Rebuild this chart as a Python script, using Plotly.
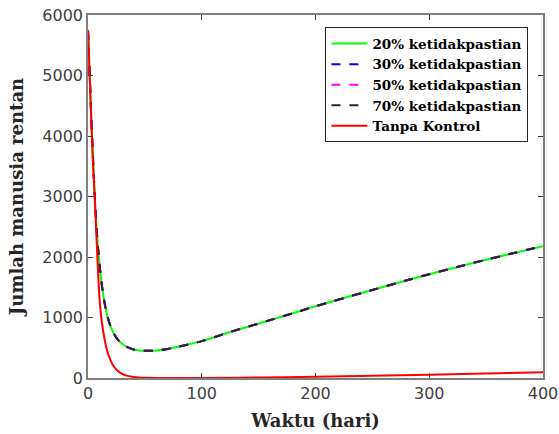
import plotly.graph_objects as go

t_ctrl = [0, 2, 4, 6, 8, 10, 12, 15, 18, 22, 26, 30, 35, 40, 45, 50, 55, 60, 70, 80, 100, 125, 150, 175, 200, 250, 300, 350, 400]
s20 = [5750, 4750, 3800, 3000, 2350, 1900, 1560, 1200, 960, 760, 640, 565, 505, 472, 456, 450, 450, 455, 480, 520, 610, 760, 900, 1040, 1185, 1455, 1715, 1955, 2180]
s30 = s20
s50 = s20
s70 = s20
t_none = [0, 2, 4, 6, 8, 10, 12, 15, 18, 22, 26, 30, 35, 40, 45, 50, 60, 80, 100, 150, 200, 250, 300, 350, 400]
s_none = [5750, 4700, 3700, 2950, 2100, 1350, 950, 600, 380, 210, 120, 70, 35, 18, 9, 5, 2, 1, 2, 8, 22, 38, 55, 75, 97]

labels = ["20% ketidakpastian", "30% ketidakpastian", "50% ketidakpastian", "70% ketidakpastian", "Tanpa Kontrol"]
x_ticks = [0, 100, 200, 300, 400]
y_ticks = [0, 1000, 2000, 3000, 4000, 5000, 6000]

fig = go.Figure()
fig.add_trace(go.Scatter(x=t_ctrl, y=s20, name="<b>" + labels[0] + "</b>", mode="lines", line=dict(color="#00ff00", width=2, shape="spline")))
fig.add_trace(go.Scatter(x=t_ctrl, y=s30, name="<b>" + labels[1] + "</b>", mode="lines", line=dict(color="#0000ff", width=2, dash="dash", shape="spline")))
fig.add_trace(go.Scatter(x=t_ctrl, y=s50, name="<b>" + labels[2] + "</b>", mode="lines", line=dict(color="#ff00ff", width=2, dash="dash", shape="spline")))
fig.add_trace(go.Scatter(x=t_ctrl, y=s70, name="<b>" + labels[3] + "</b>", mode="lines", line=dict(color="#262626", width=2, dash="dash", shape="spline")))
fig.add_trace(go.Scatter(x=t_none, y=s_none, name="<b>" + labels[4] + "</b>", mode="lines", line=dict(color="#ff0000", width=2, shape="spline")))

axis_common = dict(showline=True, linecolor="#808080", linewidth=1.5, mirror="ticks", ticks="inside",
                   ticklen=5, tickcolor="#404040", showgrid=False, zeroline=False, automargin=False,
                   tickfont=dict(family="DejaVu Sans", size=16, color="#404040"))
fig.update_xaxes(range=[0, 400], tickvals=x_ticks, **axis_common,
                 title=dict(text="<b>Waktu (hari)</b>", font=dict(family="DejaVu Serif", size=18, color="#262626"), standoff=12))
fig.update_yaxes(range=[0, 6000], tickvals=y_ticks, **axis_common,
                 title=dict(text="<b>Jumlah manusia rentan</b>", font=dict(family="DejaVu Serif", size=18, color="#262626"), standoff=14))

fig.update_layout(
    width=559, height=434,
    margin=dict(l=88, r=16, t=15, b=56),
    plot_bgcolor="white", paper_bgcolor="white",
    showlegend=True,
    legend=dict(x=0.968, y=0.966, xanchor="right", yanchor="top",
                bgcolor="white", bordercolor="#262626", borderwidth=1,
                font=dict(family="DejaVu Serif", size=13.5, color="#000000"),
                tracegroupgap=0, itemwidth=36),
)
fig.write_html("out.html")
